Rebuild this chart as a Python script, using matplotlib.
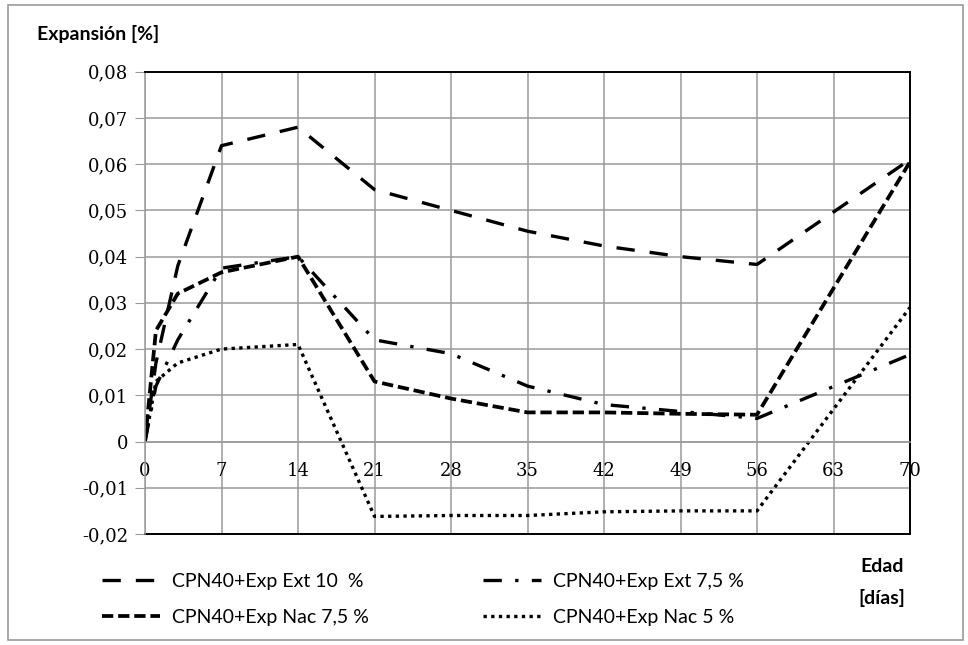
import matplotlib
matplotlib.use('Agg')
import matplotlib.pyplot as plt
from matplotlib.patches import Rectangle

# data
dias = [0, 1, 3, 7, 14, 21, 28, 35, 42, 49, 56, 70]
ext10 = [0, 0.017, 0.038, 0.064, 0.068, 0.0545, 0.050, 0.0455, 0.0423, 0.040, 0.0383, 0.061]
ext75 = [0, 0.012, 0.022, 0.0375, 0.040, 0.022, 0.019, 0.012, 0.008, 0.0065, 0.005, 0.0188]
nac75 = [0, 0.024, 0.032, 0.0366, 0.040, 0.013, 0.0093, 0.0063, 0.0063, 0.006, 0.0058, 0.0605]
nac5 = [0, 0.013, 0.017, 0.020, 0.021, -0.0162, -0.016, -0.016, -0.0152, -0.015, -0.015, 0.029]

nombres = ['CPN40+Exp Ext 10  %', 'CPN40+Exp Ext 7,5 %', 'CPN40+Exp Nac 7,5 %', 'CPN40+Exp Nac 5 %']
xticks = [0, 7, 14, 21, 28, 35, 42, 49, 56, 63, 70]
yticks = [-0.02, -0.01, 0, 0.01, 0.02, 0.03, 0.04, 0.05, 0.06, 0.07, 0.08]
ylabels = ['-0,02', '-0,01', '0', '0,01', '0,02', '0,03', '0,04', '0,05', '0,06', '0,07', '0,08']

fig = plt.figure(figsize=(9.68, 6.45), dpi=100)
fig.patches.append(Rectangle((8/968, 5/645), 955/968, 635/645, transform=fig.transFigure,
                             fill=False, edgecolor='#9a9a9a', lw=1.2))
ax = fig.add_axes([145/968, 1-534/645, 765/968, (534-71.7)/645])

lw = 2.4
l1, = ax.plot(dias, ext10, color='black', lw=lw, dashes=(5.5, 4.5))
l2, = ax.plot(dias, ext75, color='black', lw=lw, dashes=(5.5, 4, 1, 4))
l3, = ax.plot(dias, nac75, color='black', lw=2.7, dashes=(3, 1.3))
l4, = ax.plot(dias, nac5, color='black', lw=lw, dashes=(1, 1.3))

ax.set_xlim(xticks[0], xticks[-1])
ax.set_ylim(yticks[0], yticks[-1])
ax.set_xticks(xticks)
ax.set_xticklabels([str(t) for t in xticks])
ax.set_yticks(yticks)
ax.set_yticklabels(ylabels)
ax.grid(True, color='#9a9a9a', lw=1.1)
ax.set_axisbelow(True)

# x axis crosses at zero, frame kept around the plot
ax.spines['bottom'].set_position(('data', 0))
ax.spines['bottom'].set_color('#9a9a9a')
ax.spines['bottom'].set_linewidth(1.1)
ax.spines['left'].set_color('#9a9a9a')
ax.spines['left'].set_linewidth(1.1)
for s in ['top', 'right']:
    ax.spines[s].set_color('black')
    ax.spines[s].set_linewidth(1.4)
ax.axhline(yticks[0], color='black', lw=1.4, clip_on=False)

ax.tick_params(axis='y', length=7, color='#9a9a9a', pad=5, labelsize=13)
ax.tick_params(axis='x', length=0, pad=15, labelsize=13)
for lab in ax.get_xticklabels() + ax.get_yticklabels():
    lab.set_family('DejaVu Serif')

fig.text(37/968, 1-34/645, 'Expansión [%]', family='Lato', weight='bold', fontsize=14, va='center', ha='left')
fig.text(882/968, 1-567/645, 'Edad', family='Lato', weight='bold', fontsize=14, va='center', ha='center')
fig.text(882/968, 1-598/645, '[días]', family='Lato', weight='bold', fontsize=14, va='center', ha='center')

# legend fills column by column: order so rows read Ext10 | Ext7,5 and Nac7,5 | Nac5
leg = fig.legend([l1, l3, l2, l4], [nombres[0], nombres[2], nombres[1], nombres[3]],
                 loc='upper left', bbox_to_anchor=(84/968, 1-555/645), ncol=2, frameon=False,
                 prop={'family': 'Lato', 'size': 14}, handlelength=3.0, handletextpad=0.6,
                 columnspacing=5.9, labelspacing=1.0)

fig.savefig('out.png', dpi=100)
